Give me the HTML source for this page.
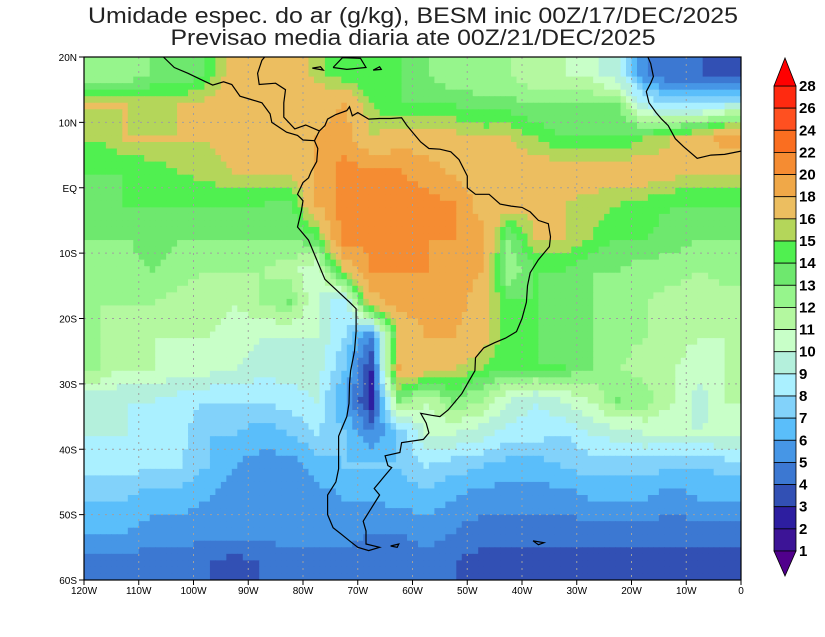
<!DOCTYPE html>
<html><head><meta charset="utf-8">
<style>
html,body{margin:0;padding:0;background:#fff;}
svg{display:block;font-family:"Liberation Sans",sans-serif;}
</style></head>
<body>
<svg id="chart" width="825" height="637" viewBox="0 0 825 637" xmlns="http://www.w3.org/2000/svg">
<rect width="825" height="637" fill="#fff"/>
<text x="413" y="23" font-size="22" text-anchor="middle" fill="#222" textLength="650" lengthAdjust="spacingAndGlyphs">Umidade espec. do ar (g/kg), BESM inic 00Z/17/DEC/2025</text>
<text x="413" y="45" font-size="22" text-anchor="middle" fill="#222" textLength="485" lengthAdjust="spacingAndGlyphs">Previsao media diaria ate 00Z/21/DEC/2025</text>
<clipPath id="clip"><rect x="84" y="57" width="657" height="523"/></clipPath>
<g id="field" clip-path="url(#clip)"></g>
<g id="grid"></g>
<g id="coast" clip-path="url(#clip)" fill="none" stroke="#000" stroke-width="1.2"></g>
<rect x="84" y="57" width="657" height="523" fill="none" stroke="#000" stroke-width="1.2"/>
<g id="axes" font-size="10" fill="#000"></g>
<g id="cbar"></g>
</svg>
<script>
const NS="http://www.w3.org/2000/svg";
const gridLats=[17.5,12.5,7.5,2.5,-2.5,-7.5,-12.5,-17.5,-22.5,-27.5,-32.5,-37.5,-42.5,-47.5,-52.5,-57.5];
const gridLons=[-117.5,-112.5,-107.5,-102.5,-97.5,-92.5,-87.5,-82.5,-77.5,-72.5,-67.5,-62.5,-57.5,-52.5,-47.5,-42.5,-37.5,-32.5,-27.5,-22.5,-17.5,-12.5,-7.5,-2.5];
const row17N=[12,12,13,13,14,17,17,17,15.5,14,14,14,13,12,12,12,11,11,10.5,9,5,4,4,3];
const row12N=[16,16,15.5,16,16.5,17,17,17,17,18,15,14,14,14,13.5,13.5,13,13,13,13,9,8,8,9];
const row7N=[15,16,16,16,16,17,17,17,18,19,16,17,17,16.5,16,16,15,14,14,14,15,16,17,19];
const row2N=[14,14,14.5,15,15.5,16,16,16,18,21,20,20,19,17.5,17,17,17,17,17,17,17,16.5,16,16];
const row2S=[13.5,14,14,14,14,14,14,13.5,18,21,21,21,21,20,17,17,16.5,16,15.5,15,14.5,14,14,14];
const row7S=[13,13,13.5,13,13,13,13,13,14,21,21,21,20,20,19,13,16,16,15,14,14,13.5,13,13];
const row12S=[12.5,12.5,13,12.5,12,12,12,11.5,10,16,20,20,20,19,18,12,14,14,13,13,12.5,12.5,12,12.5];
const row17S=[12,12,12,11.5,11.5,11,12,13,10,8,17,19,19,19,17,14,14,13.5,13,12,12,11.5,11,11.5];
const row22S=[12,11.5,11,11,11,10.5,10,10,10,8,5,16,18,18,17,14,14,13.5,13,12.5,12,11.5,11,11];
const row27S=[12,11,11,10.5,10.5,10,9.5,9.5,9.5,7,3,18,17,16,15,14,14,14,13,12,11.5,11,10.5,11];
const row32S=[9.5,9,9,8.5,8,8,8,8.5,9,6,2.5,13,11,13,12,10,9,10,11,13,12.5,11,9.5,11];
const row37S=[9,9,8.5,8.5,7,7,6.5,7,8,7,5,7,10,10,9.5,8.5,8.5,8,9,9.5,10,10,10,10.5];
const row42S=[8.5,8.5,8,8,7,6,5.5,5.5,6.5,7,7,7,8,7.5,7,6.5,6.5,7,7.5,7.5,7.5,7,7,7.5];
const row47S=[7,7,6.5,6.5,6,5.5,5.5,5.5,5.5,6,6,6.5,6.5,6,5.5,5.5,5.5,5.5,6,6,6,5.5,6,6];
const row52S=[6,6,5.5,5.5,5.5,5.5,5.5,5.5,5.5,5.5,5,5,5.5,5,4.5,4.5,4.5,4.5,4.5,4.5,4.5,4.5,4.5,4.5];
const row57S=[4.5,4.5,4.5,4.5,4,3.5,4,4.5,4.5,4.5,4.5,4.5,4.5,4,3.5,3.5,3.5,3.5,3.5,3.5,3.5,3.5,3.5,3.5];
const field=[row17N,row12N,row7N,row2N,row2S,row7S,row12S,row17S,row22S,row27S,row32S,row37S,row42S,row47S,row52S,row57S];
const levels=[1,2,3,4,5,6,7,8,9,10,11,12,13,14,15,16,18,20,22,24,26,28];
const levelColors=["#50008c","#3c1496","#2d1ea0","#3250b4","#3c78d2","#4696e6","#5abefa","#82d2fa","#aaf0ff","#b4f0dc","#c8ffc8","#b4f8a0","#96f58c","#6ee86e","#50f050","#b4d65a","#ecbe60","#f0a848","#f58c32","#fa6e20","#ff5020","#ff2a10","#ff0000"];
const levelLabels=["28","26","24","22","20","18","16","15","14","13","12","11","10","9","8","7","6","5","4","3","2","1"];
const latTicks=[20,10,0,-10,-20,-30,-40,-50,-60];
const latTickLabels=["20N","10N","EQ","10S","20S","30S","40S","50S","60S"];
const lonTicks=[-120,-110,-100,-90,-80,-70,-60,-50,-40,-30,-20,-10,0];
const lonTickLabels=["120W","110W","100W","90W","80W","70W","60W","50W","40W","30W","20W","10W","0"];

const X=lon=>84+(lon+120)*657/120;
const Y=lat=>57+(20-lat)*523/80;
function colorFor(v){let i=0;while(i<levels.length&&v>=levels[i])i++;return levelColors[i];}
function sample(lon,lat){
  let fi=(gridLats[0]-lat)/5, fj=(lon-gridLons[0])/5;
  fi=Math.max(0,Math.min(gridLats.length-1,fi));fj=Math.max(0,Math.min(gridLons.length-1,fj));
  const i0=Math.min(Math.floor(fi),gridLats.length-2),j0=Math.min(Math.floor(fj),gridLons.length-2);
  const a=fi-i0,b=fj-j0;
  return field[i0][j0]*(1-a)*(1-b)+field[i0][j0+1]*(1-a)*b+field[i0+1][j0]*a*(1-b)+field[i0+1][j0+1]*a*b;
}
const fg=document.getElementById('field');
for(let lat=20;lat>-60;lat-=1){
  for(let lon=-120;lon<0;lon+=1){
    const r=document.createElementNS(NS,'rect');
    
    
    const x0=X(lon),y0=Y(lat);
    r.setAttribute('x',x0.toFixed(2));r.setAttribute('y',y0.toFixed(2));
    r.setAttribute('width',(X(lon+1)-x0+0.6).toFixed(2));r.setAttribute('height',(Y(lat-1)-y0+0.6).toFixed(2));
    r.setAttribute('fill',colorFor(sample(lon+0.5,lat-0.5)));
    fg.appendChild(r);
  }
}
const gg=document.getElementById('grid');
lonTicks.slice(1,-1).forEach(l=>{const ln=document.createElementNS(NS,'line');
  
  
  ln.setAttribute('x1',X(l));ln.setAttribute('x2',X(l));ln.setAttribute('y1',57);ln.setAttribute('y2',580);
  ln.setAttribute('stroke','#a0a0a0');ln.setAttribute('stroke-dasharray','2,5');gg.appendChild(ln);});
latTicks.slice(1,-1).forEach(l=>{const ln=document.createElementNS(NS,'line');
  
  
  ln.setAttribute('y1',Y(l));ln.setAttribute('y2',Y(l));ln.setAttribute('x1',84);ln.setAttribute('x2',741);
  ln.setAttribute('stroke','#a0a0a0');ln.setAttribute('stroke-dasharray','2,5');gg.appendChild(ln);});
const ag=document.getElementById('axes');
latTicks.forEach((l,i)=>{const t=document.createElementNS(NS,'text');
  
  
  t.setAttribute('x',77);t.setAttribute('y',Y(l)+4);t.setAttribute('text-anchor','end');t.textContent=latTickLabels[i];ag.appendChild(t);
  const k=document.createElementNS(NS,'line');
  
  
  k.setAttribute('x1',79);k.setAttribute('x2',84);k.setAttribute('y1',Y(l));k.setAttribute('y2',Y(l));k.setAttribute('stroke','#000');ag.appendChild(k);});
lonTicks.forEach((l,i)=>{const t=document.createElementNS(NS,'text');
  
  
  t.setAttribute('x',X(l));t.setAttribute('y',594);t.setAttribute('text-anchor','middle');t.textContent=lonTickLabels[i];ag.appendChild(t);
  const k=document.createElementNS(NS,'line');
  
  
  k.setAttribute('x1',X(l));k.setAttribute('x2',X(l));k.setAttribute('y1',580);k.setAttribute('y2',585);k.setAttribute('stroke','#000');ag.appendChild(k);});
const coasts=[
 [[-77,8.7],[-76,9.5],[-75.5,10.5],[-74,11.2],[-72,11.8],[-71.5,12.4],[-71,11],[-70,11.5],[-68,10.5],[-66,10.6],[-64,10.6],[-62,10.7],[-61,9.5],[-60,8.5],[-58.5,7],[-57,6],[-55,5.9],[-53,5.5],[-51.5,4.3],[-50,1.8],[-50,0],[-48.5,-1],[-46,-1],[-44,-2.5],[-42,-2.8],[-40,-3],[-38.5,-3.7],[-37,-5],[-35.2,-5.5],[-34.8,-7.5],[-35,-9],[-37,-11],[-38.5,-13],[-39,-15],[-39.2,-17.5],[-40,-20],[-41,-22],[-43,-23],[-45,-23.7],[-47,-24.5],[-48.5,-26],[-48.6,-28],[-50,-30],[-51,-31.5],[-52.5,-33],[-53.5,-34],[-55,-35],[-56.5,-34.8],[-58.5,-34.5],[-57.5,-36],[-57,-37.5],[-58,-38.5],[-62,-39],[-62.3,-40.5],[-65,-41],[-64.5,-42.5],[-63.8,-42.8],[-65,-44],[-67,-46],[-66,-47],[-67.5,-49],[-69,-51],[-68.5,-52.5],[-68.5,-54.5],[-66,-55],[-68,-55.5],[-70,-55],[-71.5,-54],[-73,-53],[-74.5,-52],[-75.5,-50],[-75.5,-47],[-74,-45],[-73.5,-43],[-73.5,-41],[-73.5,-38],[-73,-37],[-72,-35],[-71.6,-33],[-71.5,-30],[-71.3,-28],[-70.6,-25],[-70.3,-22],[-70.3,-18.5],[-71.5,-17.5],[-76,-14],[-77,-12],[-79,-8],[-81,-6],[-80.3,-3.5],[-80,-2],[-81,-1],[-80,0.8],[-79,1.5],[-78.5,2.5],[-77.5,4],[-77.3,6],[-77.9,7.2],[-77,8.7]],
 [[-77.9,7.2],[-80,7.3],[-81,8],[-83,8.5],[-85.7,10],[-86,11.3],[-87.5,13],[-89.5,13.5],[-91.5,14],[-93,15.8],[-94.5,16.2],[-96.5,15.7],[-98,16.3],[-101,17.5],[-103.5,18.4],[-105.5,20]],
 [[-77,8.7],[-79.5,9.6],[-81.5,9],[-83.5,10.8],[-83.5,13],[-83.2,15],[-85,16],[-88,15.8],[-88.3,17.5],[-87.5,19.5],[-87,20]],
 [[-17,20],[-16.5,19],[-16,17],[-16.5,16],[-17.3,14.7],[-16.8,13],[-15.5,11.5],[-14.5,10.5],[-13.3,9.5],[-12,7.5],[-10.5,6.3],[-8,4.5],[-5.5,5],[-3,5.1],[0,5.6]],
 [[-74.5,18.4],[-72,18.1],[-68.5,18.4],[-69.5,19.8],[-72.8,19.9],[-74.5,18.4]],
 [[-78.3,18.3],[-76.3,18],[-76.8,18.5],[-78.3,18.3]],
 [[-67.2,18],[-65.7,18.1],[-66,18.5],[-67.2,18]],
 [[-64,-54.8],[-62.5,-54.5],[-62.8,-55],[-64,-54.8]],
 [[-38,-54],[-36,-54.3],[-37,-54.6],[-38,-54]]
];
const cg=document.getElementById('coast');
coasts.forEach(c=>{const p=document.createElementNS(NS,'polyline');
  
  
  p.setAttribute('points',c.map(q=>X(q[0]).toFixed(1)+','+Y(q[1]).toFixed(1)).join(' '));cg.appendChild(p);});
const cb=document.getElementById('cbar');
const bx=774,bw=22,cbTop=86,step=(551-86)/21;
for(let k=0;k<21;k++){const r=document.createElementNS(NS,'rect');
  
  
  r.setAttribute('x',bx);r.setAttribute('y',cbTop+k*step);r.setAttribute('width',bw);r.setAttribute('height',step);
  r.setAttribute('fill',levelColors[levelColors.length-2-k]);r.setAttribute('stroke','#000');r.setAttribute('stroke-width','0.8');cb.appendChild(r);}
const t1=document.createElementNS(NS,'polygon');


t1.setAttribute('points',`${bx},${cbTop} ${bx+bw},${cbTop} ${bx+bw/2},58`);t1.setAttribute('fill',levelColors[levelColors.length-1]);t1.setAttribute('stroke','#000');t1.setAttribute('stroke-width','0.8');cb.appendChild(t1);
const t2=document.createElementNS(NS,'polygon');


t2.setAttribute('points',`${bx},551 ${bx+bw},551 ${bx+bw/2},576`);t2.setAttribute('fill',levelColors[0]);t2.setAttribute('stroke','#000');t2.setAttribute('stroke-width','0.8');cb.appendChild(t2);
levelLabels.forEach((s,k)=>{const t=document.createElementNS(NS,'text');
  
  
  t.setAttribute('x',799);t.setAttribute('y',cbTop+k*step+5);t.setAttribute('font-size','15');t.setAttribute('font-weight','bold');t.textContent=s;cb.appendChild(t);});
</script>
</body></html>
